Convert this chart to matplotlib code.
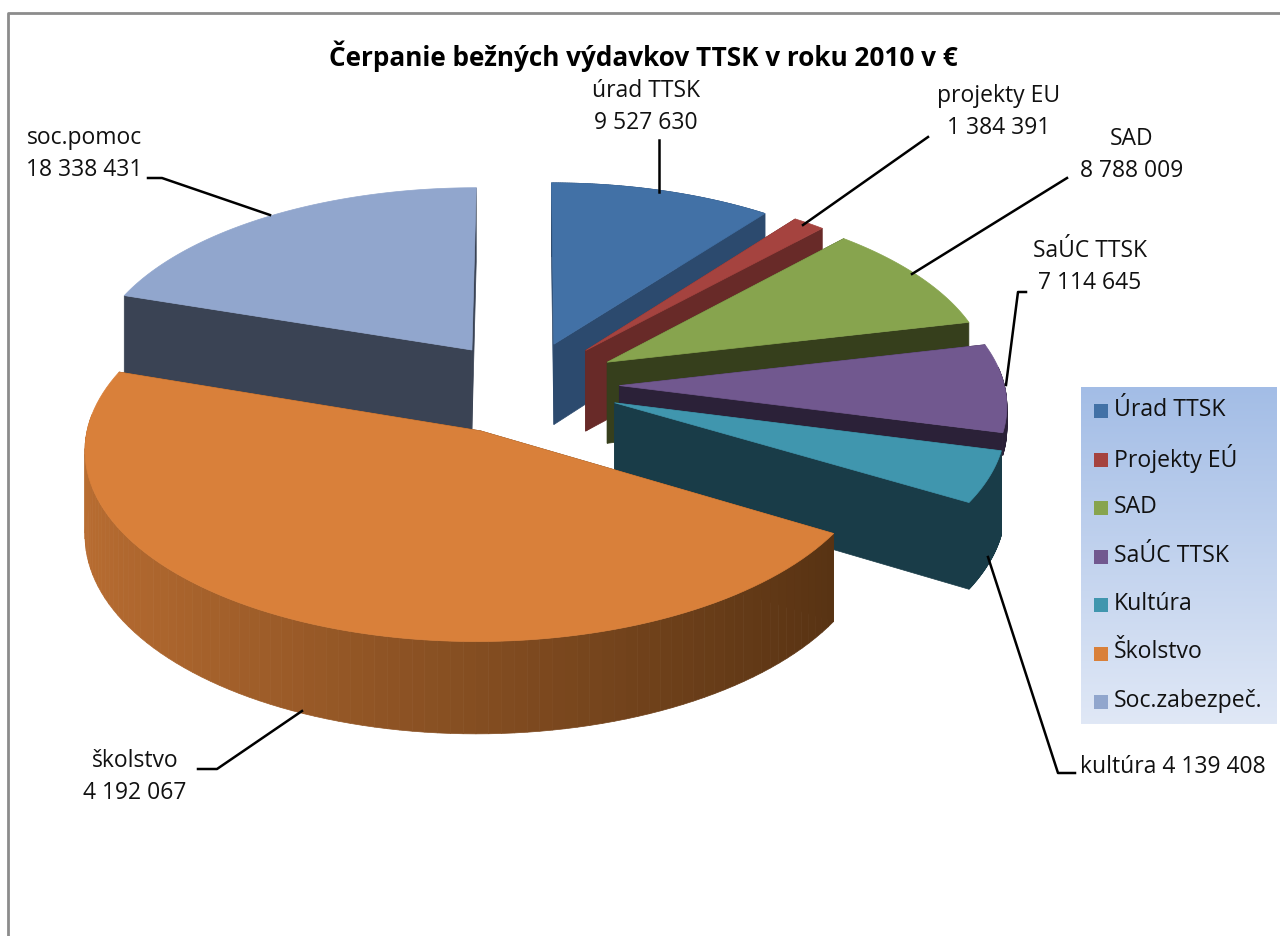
import numpy as np
import matplotlib
matplotlib.use('Agg')
import matplotlib.pyplot as plt
from matplotlib.patches import Polygon, Rectangle
from matplotlib.colors import to_rgb

plt.rcParams['font.family'] = ['Open Sans', 'DejaVu Sans']

# skolstvo slice size is estimated from the picture, its label says 4 192 067
names = ['Úrad TTSK', 'Projekty EÚ', 'SAD', 'SaÚC TTSK', 'Kultúra', 'Školstvo', 'Soc.zabezpeč.']
values = [9527630, 1384391, 8788009, 7114645, 4139408, 43000000, 18338431]
labels = ['úrad TTSK\n9 527 630', 'projekty EU\n1 384 391', 'SAD\n8 788 009', 'SaÚC TTSK\n7 114 645',
          'kultúra 4 139 408', 'školstvo\n4 192 067', 'soc.pomoc\n18 338 431']

top_colors = ['#4271a6', '#a5433f', '#87a44e', '#71588f', '#4096ae', '#d9803a', '#91a6cd']
wall_colors = ['#2c4a6e', '#682a28', '#363f1c', '#2b2138', '#193c48', '#5a3413', '#3a4354']
explode = [0.24, 0.25, 0.25, 0.245, 0.25, 0.27, 0.24]
rim_depth = [82, 82, 82, 22, 82, 82, 82]

R = 385
TILT = 0.475
K = 0.09
H = 82
CX, CY = 525, 385


def project(x, y, z=0.0):
    # x, y on the pie plane (y points away from viewer), z down
    s = 1 / (1 + K * y / R)
    return CX + x * s, CY - y * TILT * s + z * s


fig = plt.figure(figsize=(12.8, 9.36), dpi=100)
ax = fig.add_axes([0, 0, 1, 1])
ax.set_xlim(0, 1280)
ax.set_ylim(936, 0)
ax.axis('off')

# outer frame of the chart
ax.plot([8, 8, 1280], [936, 13, 13], color='#8c8c8c', lw=2, zorder=1)

total = sum(values)
fr = np.cumsum([0] + values) / total * 360
order = [6, 0, 1, 2, 3, 4, 5]
z = 2

for i in order:
    a0, a1 = np.radians(fr[i]), np.radians(fr[i + 1])
    mid = (a0 + a1) / 2
    ox, oy = explode[i] * R * np.sin(mid), explode[i] * R * np.cos(mid)
    t = np.linspace(a0, a1, 100)
    xs = ox + R * np.sin(t)
    ys = oy + R * np.cos(t)

    # cut walls at both radial edges
    for a in (a0, a1):
        ex, ey = ox + R * np.sin(a), oy + R * np.cos(a)
        p = [project(ox, oy), project(ex, ey), project(ex, ey, rim_depth[i]), project(ox, oy, H)]
        ax.add_patch(Polygon(p, closed=True, fc=wall_colors[i], ec=wall_colors[i], lw=0.5, zorder=z))
        z += 1

    # rim, shaded piece by piece
    base = np.array(to_rgb(top_colors[i]))
    dark = np.array(to_rgb(wall_colors[i]))
    for j in range(len(t) - 1):
        if np.cos((t[j] + t[j + 1]) / 2) > 0.1 and i != 0:
            continue
        f = (np.sin(t[j]) + 1) / 2  # 0 at left, 1 at right
        c = base * 0.85 * (1 - f) + dark * 0.9 * f if i == 5 else dark
        p = [project(xs[j], ys[j]), project(xs[j + 1], ys[j + 1]),
             project(xs[j + 1], ys[j + 1], rim_depth[i]), project(xs[j], ys[j], rim_depth[i])]
        ax.add_patch(Polygon(p, closed=True, fc=c, ec=c, lw=0.5, zorder=z))
    z += 1

    # top face
    px, py = project(np.r_[ox, xs], np.r_[oy, ys])
    ax.add_patch(Polygon(np.c_[px, py], closed=True, fc=top_colors[i], ec=top_colors[i], lw=0.5, zorder=z))
    z += 1

# title and data labels with leader lines
ax.text(643, 56, 'Čerpanie bežných výdavkov TTSK v roku 2010 v €', ha='center', va='center',
        fontsize=18.8, fontweight='bold', color='black', zorder=z)

label_pos = [(646, 107), (999, 112), (1132, 155), (1090, 267), (1173, 767), (135, 777), (84, 154)]
leaders = [[(659, 140), (659, 192)], [(928, 137), (803, 225)], [(1067, 178), (912, 274)],
           [(1026, 292), (1018, 292), (1006, 385)], [(1075, 773), (1058, 773), (988, 557)],
           [(198, 769), (217, 769), (302, 711)], [(148, 178), (162, 178), (270, 215)]]
for txt, pos, line in zip(labels, label_pos, leaders):
    ax.text(pos[0], pos[1], txt, ha='center', va='center', fontsize=16.5, color='#111111',
            linespacing=1.42, zorder=z + 1)
    lx, ly = zip(*line)
    ax.plot(lx, ly, color='black', lw=1.8, zorder=z + 1)

# legend box with vertical gradient
grad = np.linspace(0, 1, 256)[:, None, None]
top = np.array(to_rgb('#a3bde6'))
bottom = np.array(to_rgb('#e0e8f6'))
ax.imshow(top + (bottom - top) * grad, extent=[1081, 1277, 724, 387], aspect='auto', zorder=z + 1)
ax.set_xlim(0, 1280)
ax.set_ylim(936, 0)
for k, name in enumerate(names):
    y = 411 + k * 48.5
    ax.add_patch(Rectangle((1094, y - 7), 14, 14, fc=top_colors[k], ec='none', zorder=z + 2))
    ax.text(1114, y - 1, name, ha='left', va='center', fontsize=16.6, color='#111111', zorder=z + 2)

fig.savefig('out.png', dpi=100)
